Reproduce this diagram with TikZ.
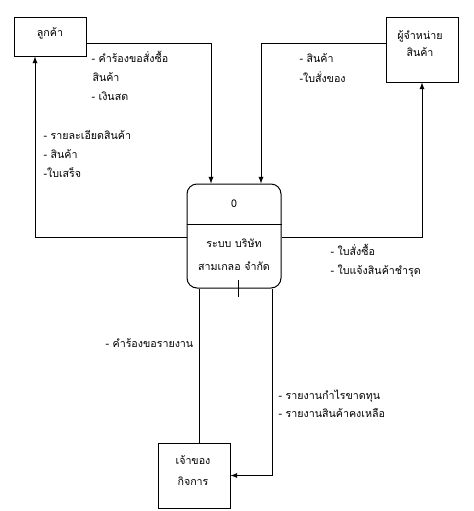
\documentclass[tikz,border=0pt]{standalone}
\usepackage{fontspec}
\newfontfamily\thaifont[Script=Thai]{Loma}
\usetikzlibrary{positioning}

\tikzset{
  ent/.style={draw, minimum width=54pt, inner sep=0pt},
  txt/.style={align=center, inner sep=0pt},
  lbl/.style={anchor=base west, inner sep=0pt},
}

\begin{document}
\begin{tikzpicture}[x=0.75pt,y=-0.75pt,line width=0.75pt,>=latex,
    font=\thaifont\fontsize{8}{14}\selectfont]
  \useasboundingbox (0,0) rectangle (474,511);
  % external entities
  \node[ent, minimum height=29.25pt] (cust) at (50.5,36.5) {};
  \node[txt] (custtxt) at (50,33) {ลูกค้า};
  \node[ent, minimum height=48.75pt] (sup) at (422,49.5) {};
  \node[txt] (suptxt) at (420,43.5) {ผู้จำหน่าย\\[-1pt]สินค้า};
  \node[ent, minimum height=48.75pt] (own) at (194,475.5) {};
  \node[txt] (owntxt) at (193,470.5) {เจ้าของ\\[2pt]กิจการ};
  % process
  \node[draw, rounded corners=7.5pt, minimum width=70.5pt, minimum height=78pt] (proc) at (234,236) {};
  \draw (proc.west |- 0,224) -- (proc.east |- 0,224);
  \node[txt] (pid) at (234,204) {0};
  \node[txt] (pname) at (234,255) {ระบบ บริษัท\\[3pt]สามเกลอ จำกัด};
  \draw (238,280) -- (238,297);
  % flows
  \coordinate (c1) at (211,43);
  \coordinate (c2) at (261,43);
  \coordinate (c3) at (35,237);
  \coordinate (c4) at (422,237);
  \coordinate (c5) at (199,300);
  \coordinate (c6) at (272,477);
  \draw[->] (c1 -| cust.east) -| (proc.north -| c1);
  \draw[->] (c2 -| sup.west) -| (proc.north -| c2);
  \draw[->] (c3 -| proc.west) -| (cust.south -| c3);
  \draw[->] (c4 -| proc.east) -| (sup.south);
  \draw (own.north -| c5) -- (proc.south -| c5);
  \draw[->] (proc.south -| c6) |- (own.east);
  % labels
  \node[lbl] (l1) at (91,62) {- คำร้องขอสั่งซื้อ};
  \node[lbl] (l2) at (92,81) {สินค้า};
  \node[lbl] (l3) at (91,100) {- เงินสด};
  \node[lbl] (l4) at (299,62) {- สินค้า};
  \node[lbl] (l5) at (299,82) {-ใบสั่งของ};
  \node[lbl] (l6) at (43,139) {- รายละเอียดสินค้า};
  \node[lbl] (l7) at (43,158) {- สินค้า};
  \node[lbl] (l8) at (43,177) {-ใบเสร็จ};
  \node[lbl] (l9) at (330,255) {- ใบสั่งซื้อ};
  \node[lbl] (l10) at (330,274) {- ใบแจ้งสินค้าชำรุด};
  \node[lbl] (l11) at (105,347) {- คำร้องขอรายงาน};
  \node[lbl] (l12) at (278,399) {- รายงานกำไรขาดทุน};
  \node[lbl] (l13) at (278,417) {- รายงานสินค้าคงเหลือ};
\end{tikzpicture}
\end{document}
